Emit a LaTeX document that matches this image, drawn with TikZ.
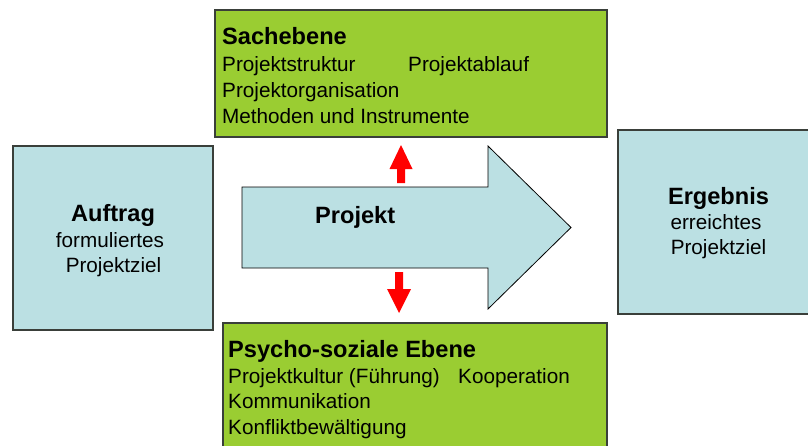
\documentclass[tikz,border=0pt]{standalone}
\usepackage{fontspec}
\setmainfont{Liberation Sans}
\definecolor{boxgreen}{HTML}{9ACD32}
\definecolor{boxblue}{HTML}{BBE0E3}
\definecolor{edge}{HTML}{3A3F3A}
\begin{document}
\begin{tikzpicture}[x=1pt,y=-1pt,
  greenbox/.style={draw=edge,line width=1.3pt,fill=boxgreen},
  bluebox/.style={draw=edge,line width=1.3pt,fill=boxblue},
  txt/.style={inner sep=0pt,anchor=base west,font=\fontsize{20.7}{24}\selectfont},
  ctxt/.style={inner sep=0pt,anchor=base,font=\fontsize{20.7}{24}\selectfont},
  head/.style={inner sep=0pt,anchor=base west,font=\fontsize{23.6}{27}\selectfont\bfseries},
  chead/.style={inner sep=0pt,anchor=base,font=\fontsize{23.6}{27}\selectfont\bfseries},
  redarrow/.style={fill=red}]
\useasboundingbox (0,0) rectangle (808,445);
\begin{scope}
\clip (0,0) rectangle (808,445);
% boxes
\node[greenbox,rectangle,minimum width=392pt,minimum height=127pt,inner sep=0pt] (sach) at (411,73.5) {};
\node[greenbox,rectangle,minimum width=384pt,minimum height=137pt,inner sep=0pt] (psycho) at (415,391.5) {};
\node[bluebox,rectangle,minimum width=200pt,minimum height=184pt,inner sep=0pt] (auftrag) at (113,238) {};
\node[bluebox,rectangle,minimum width=197pt,minimum height=184pt,inner sep=0pt] (ergebnis) at (716.5,222) {};
% big arrow
\draw[fill=boxblue,draw=black,line width=0.8pt] (242,187) -- (488,187) -- (488,146) -- (571,227.5) -- (488,309) -- (488,268) -- (242,268) -- cycle;
\coordinate (projekt) at (355,227.5);
% red arrows
\fill[redarrow] (397,183) -- (405,183) -- (405,169) -- (412.5,169) -- (401,145) -- (389.5,169) -- (397,169) -- cycle;
\fill[redarrow] (395,272) -- (403,272) -- (403,289) -- (411,289) -- (399,313) -- (387,289) -- (395,289) -- cycle;
\end{scope}
% texts top
\node[head] (t1) at (222,44) {Sachebene};
\node[txt] (t2) at (222,71.5) {Projektstruktur};
\node[txt] (t3) at (408,71.5) {Projektablauf};
\node[txt] (t4) at (222,97) {Projektorganisation};
\node[txt] (t5) at (222,123) {Methoden und Instrumente};
% texts bottom
\node[head] (b1) at (228,357) {Psycho-soziale Ebene};
\node[txt] (b2) at (228,383) {Projektkultur (Führung)};
\node[txt] (b3) at (458,383) {Kooperation};
\node[txt] (b4) at (228,408.5) {Kommunikation};
\node[txt] (b5) at (228,434) {Konfliktbewältigung};
% left
\node[chead] (l1) at (113,221) {Auftrag};
\node[ctxt] (l2) at (110,247) {formuliertes};
\node[ctxt] (l3) at (113.5,272) {Projektziel};
% right
\node[chead] (r1) at (718.5,204) {Ergebnis};
\node[ctxt] (r2) at (716,229) {erreichtes};
\node[ctxt] (r3) at (718.5,254) {Projektziel};
% arrow label
\node[head] (p1) at (315,223) {Projekt};
\end{tikzpicture}
\end{document}
